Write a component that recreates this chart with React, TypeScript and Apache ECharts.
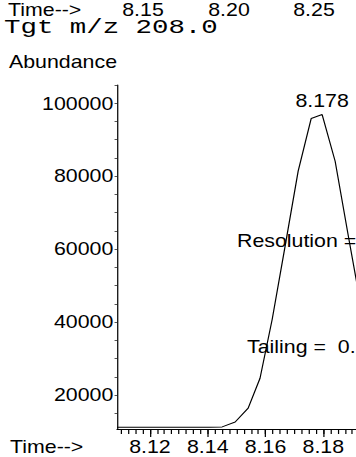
import React, { useEffect, useRef } from "react";
import * as echarts from "echarts";

// Retention time (min) and abundance of the m/z 208.0 target ion trace
const times = [
  8.1086, 8.1130, 8.1175, 8.1220, 8.1265, 8.1310, 8.1355, 8.1405,
  8.1450, 8.1495, 8.1540, 8.1581, 8.1623, 8.1668, 8.1713, 8.1758,
  8.1796, 8.1841, 8.1886, 8.1928,
];
const abundance = [
  11200, 11200, 11200, 11200, 11200, 11200, 11200, 11200,
  11300, 12640, 16450, 24640, 40730, 60900, 81400, 95800,
  96900, 84100, 63900, 45400,
];
const apexIndex = 16;
const apexLabel = "8.178";

const xTickLabels = [8.12, 8.14, 8.16, 8.18];
const yTickLabels = [20000, 40000, 60000, 80000, 100000];
const topTimeLabels = ["8.15", "8.20", "8.25"];
const titleText = "Tgt m/z 208.0";
const yTitle = "Abundance";
const timeArrow = "Time-->";
const resolutionText = "Resolution =";
const tailingText = "Tailing =  0.";

// the scanned printout is stretched horizontally
const S = 1.22;
const W = 356;
const H = 457;

export default function App() {
  const ref = useRef<HTMLDivElement>(null);
  useEffect(() => {
    if (!ref.current) return;
    const chart = echarts.init(ref.current, null, { renderer: "svg" });
    const sans = "Liberation Sans";
    const fs = 17.5;
    const minorTicks: number[] = [];
    for (let i = 3244; i <= 3276; i++) minorTicks.push(Math.round(i * 25) / 10000);
    const yMinor: number[] = [];
    for (let v = 15000; v <= 105000; v += 5000) yMinor.push(v);
    const data = times.map((t, i) => [t, abundance[i]]);
    const topX = [143, 229, 314];
    const txt = (text: string, x: number, y: number, align = "left") => ({
      type: "text",
      x: x / S,
      y,
      style: { text, font: `${fs}px ${sans}`, fill: "#000", textAlign: align, textVerticalAlign: "middle" },
    });
    chart.setOption({
      animation: false,
      backgroundColor: "#fff",
      grid: { left: 117 / S, right: 0, top: 85, bottom: 28, containLabel: false },
      xAxis: [
        {
          type: "value",
          min: 8.1086,
          max: 8.1914,
          axisLine: { show: true, lineStyle: { color: "#000", width: 1 } },
          axisTick: { show: true, customValues: xTickLabels, length: 8, lineStyle: { color: "#000" } },
          axisLabel: {
            customValues: xTickLabels,
            formatter: (v: number) => v.toFixed(2),
            fontFamily: sans,
            fontSize: fs,
            color: "#000",
            margin: 9,
          },
          splitLine: { show: false },
        },
        {
          type: "value",
          position: "bottom",
          min: 8.1086,
          max: 8.1914,
          axisLine: { show: false },
          axisTick: { show: true, customValues: minorTicks, length: 5, lineStyle: { color: "#000" } },
          axisLabel: { show: false },
          splitLine: { show: false },
        },
      ],
      yAxis: {
        type: "value",
        min: 10725,
        max: 105000,
        axisLine: { show: true, lineStyle: { color: "#000", width: 1 } },
        axisTick: { show: true, customValues: yMinor, length: 2, lineStyle: { color: "#555" } },
        axisLabel: {
          customValues: yTickLabels,
          formatter: (v: number) => String(v),
          fontFamily: sans,
          fontSize: fs,
          color: "#000",
          margin: 3,
        },
        splitLine: { show: false },
      },
      series: [
        {
          type: "line",
          xAxisIndex: 0,
          data,
          showSymbol: false,
          symbol: "none",
          lineStyle: { color: "#000", width: 1 },
          clip: true,
          markPoint: {
            symbol: "circle",
            symbolSize: 0,
            data: [
              {
                coord: [times[apexIndex], abundance[apexIndex]],
                label: {
                  show: true,
                  position: "top",
                  distance: 5,
                  formatter: apexLabel,
                  fontFamily: sans,
                  fontSize: fs,
                  color: "#000",
                },
              },
            ],
          },
        },
      ],
      graphic: [
        txt(timeArrow, 8, 10),
        ...topTimeLabels.map((t, i) => txt(t, topX[i], 10, "center")),
        {
          type: "text",
          x: 4 / S,
          y: 27,
          scaleX: 1.07,
          style: { text: titleText, font: `21px "Liberation Mono"`, fill: "#000", textVerticalAlign: "middle" },
        },
        txt(yTitle, 9, 62),
        txt(resolutionText, 237, 241),
        txt(tailingText, 247, 347),
        txt(timeArrow, 10, 447),
      ],
    });
    return () => chart.dispose();
  }, []);
  return (
    <div style={{ position: "fixed", left: 0, top: 0, width: W, height: H, overflow: "hidden", background: "#fff" }}>
      <div
        ref={ref}
        style={{ width: W / S, height: H, transform: `scaleX(${S})`, transformOrigin: "0 0" }}
      />
    </div>
  );
}
